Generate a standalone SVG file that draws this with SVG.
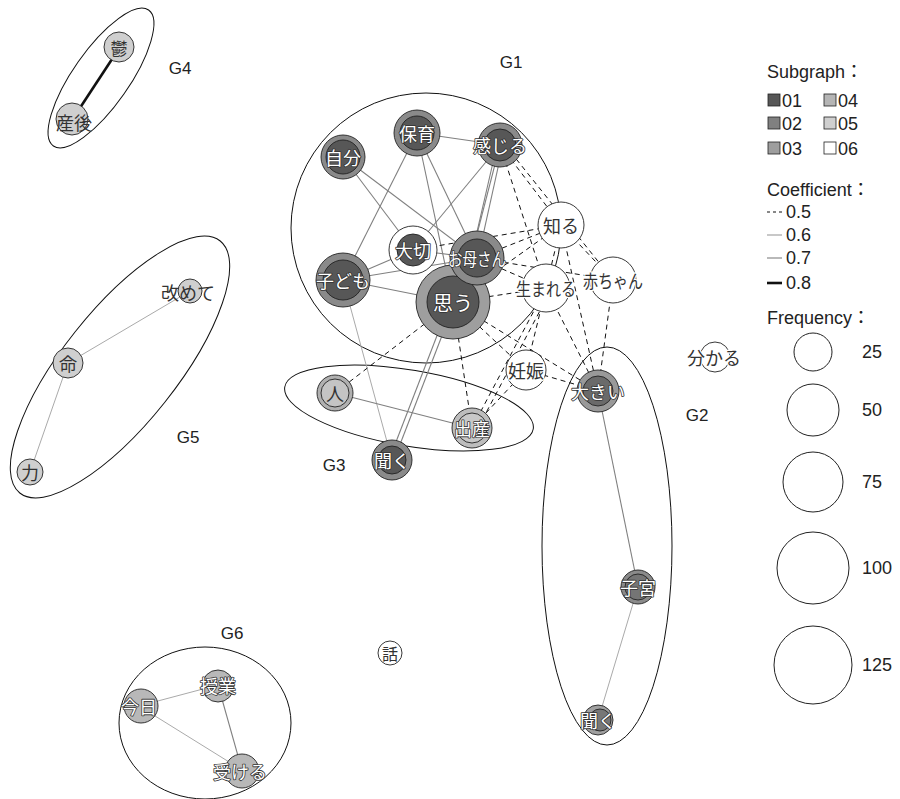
<svg xmlns="http://www.w3.org/2000/svg" width="900" height="799" viewBox="0 0 900 799">
<style>
text{font-family:"Noto Sans CJK JP","Noto Sans CJK SC",sans-serif}
.lat{font-family:"Liberation Sans","Noto Sans CJK JP",sans-serif;font-size:17px;fill:#222}
.leg{font-size:18px}
.grp{fill:none;stroke:#111;stroke-width:1}
.e6{stroke:#aaa;stroke-width:1;fill:none}
.e7{stroke:#808080;stroke-width:1.1;fill:none}
.e8{stroke:#111;stroke-width:2.6;fill:none}
.e5{stroke:#111;stroke-width:1;stroke-dasharray:5 4;fill:none}
.c{stroke:#222;stroke-width:0.9}
.lw{font-size:18px;fill:#fff;stroke:#333;stroke-width:1.6;paint-order:stroke;stroke-linejoin:round;text-anchor:middle;dominant-baseline:central}
.ld{font-size:18px;fill:#333;stroke:#fff;stroke-width:2.5;paint-order:stroke;stroke-linejoin:round;text-anchor:middle;dominant-baseline:central}
.ldn{font-size:18px;fill:#333;text-anchor:middle;dominant-baseline:central}
</style>

<g id="groups">
<ellipse class="grp" cx="101" cy="78" rx="28" ry="83" transform="rotate(35 101 78)"/>
<ellipse class="grp" cx="120" cy="367" rx="57" ry="161" transform="rotate(38.5 120 367)"/>
<circle class="grp" cx="426" cy="228" r="135"/>
<ellipse class="grp" cx="409" cy="408" rx="126" ry="38" transform="rotate(9.6 409 408)"/>
<ellipse class="grp" cx="607" cy="546" rx="65" ry="199"/>
<ellipse class="grp" cx="205" cy="723" rx="86" ry="76"/>
<text class="lat" x="511" y="68" text-anchor="middle">G1</text>
<text class="lat" x="697" y="421" text-anchor="middle">G2</text>
<text class="lat" x="334" y="471" text-anchor="middle">G3</text>
<text class="lat" x="180" y="74" text-anchor="middle">G4</text>
<text class="lat" x="188" y="443" text-anchor="middle">G5</text>
<text class="lat" x="232" y="639" text-anchor="middle">G6</text>
</g>

<g id="connectors">
<line class="e7" x1="417" y1="133" x2="500" y2="145"/>
<line class="e7" x1="417" y1="133" x2="343" y2="280"/>
<line class="e7" x1="417" y1="133" x2="453" y2="302"/>
<line class="e7" x1="417" y1="133" x2="477" y2="258"/>
<line class="e7" x1="343" y1="157" x2="413" y2="250"/>
<line class="e7" x1="343" y1="157" x2="477" y2="258"/>
<line class="e7" x1="500" y1="145" x2="413" y2="250"/>
<line class="e7" x1="497" y1="145" x2="471" y2="258"/>
<line class="e7" x1="503" y1="145" x2="478" y2="258"/>
<line class="e7" x1="500" y1="145" x2="460" y2="300"/>
<line class="e7" x1="343" y1="280" x2="413" y2="250"/>
<line class="e7" x1="343" y1="280" x2="477" y2="258"/>
<line class="e7" x1="343" y1="280" x2="453" y2="302"/>
<line class="e6" x1="343" y1="280" x2="392" y2="460"/>
<line class="e7" x1="413" y1="250" x2="477" y2="258"/>
<line class="e7" x1="450" y1="302" x2="389" y2="460"/>
<line class="e7" x1="455" y1="302" x2="394" y2="460"/>
<line class="e7" x1="335" y1="393" x2="472" y2="428"/>
<line class="e5" x1="500" y1="145" x2="561" y2="225"/>
<line class="e5" x1="500" y1="145" x2="546" y2="288"/>
<line class="e5" x1="505" y1="145" x2="613" y2="280"/>
<line class="e5" x1="413" y1="250" x2="561" y2="225"/>
<line class="e5" x1="477" y1="258" x2="561" y2="225"/>
<line class="e5" x1="453" y1="302" x2="561" y2="225"/>
<line class="e5" x1="561" y1="225" x2="546" y2="288"/>
<line class="e5" x1="561" y1="225" x2="613" y2="280"/>
<line class="e5" x1="561" y1="225" x2="598" y2="391"/>
<line class="e5" x1="477" y1="258" x2="546" y2="288"/>
<line class="e5" x1="477" y1="258" x2="613" y2="280"/>
<line class="e5" x1="453" y1="302" x2="546" y2="288"/>
<line class="e5" x1="453" y1="302" x2="526" y2="370"/>
<line class="e5" x1="453" y1="302" x2="598" y2="391"/>
<line class="e5" x1="453" y1="302" x2="335" y2="393"/>
<line class="e5" x1="453" y1="302" x2="472" y2="428"/>
<line class="e5" x1="546" y1="288" x2="526" y2="370"/>
<line class="e5" x1="546" y1="288" x2="472" y2="428"/>
<line class="e5" x1="552" y1="288" x2="478" y2="428"/>
<line class="e5" x1="546" y1="288" x2="598" y2="391"/>
<line class="e5" x1="613" y1="280" x2="598" y2="391"/>
<line class="e5" x1="526" y1="370" x2="598" y2="391"/>
<line class="e5" x1="526" y1="370" x2="472" y2="428"/>
<line class="e7" x1="598" y1="391" x2="638" y2="587"/>
<line class="e6" x1="638" y1="587" x2="598" y2="720"/>
<line class="e8" x1="120" y1="47" x2="72" y2="120"/>
<line class="e6" x1="190" y1="291" x2="68" y2="363"/>
<line class="e6" x1="68" y1="363" x2="30" y2="472"/>
<line class="e6" x1="139" y1="706" x2="218" y2="685"/>
<line class="e6" x1="139" y1="706" x2="242" y2="770"/>
<line class="e7" x1="218" y1="685" x2="242" y2="770"/>
</g>

<g id="n-hoiku"><circle class="c" cx="417" cy="133" r="23" fill="#8a8a8a"/><circle class="c" cx="417" cy="133" r="17" fill="#575757"/><text class="lw" x="417" y="133">保育</text></g>
<g id="n-jibun"><circle class="c" cx="343" cy="157" r="22" fill="#8a8a8a"/><circle class="c" cx="343" cy="157" r="17" fill="#575757"/><text class="lw" x="343" y="157">自分</text></g>
<g id="n-kanjiru"><circle class="c" cx="500" cy="145" r="22" fill="#8a8a8a"/><circle class="c" cx="500" cy="145" r="16" fill="#575757"/><text class="lw" x="500" y="145">感じる</text></g>
<g id="n-kodomo"><circle class="c" cx="343" cy="280" r="27" fill="#8a8a8a"/><circle class="c" cx="343" cy="280" r="20" fill="#575757"/><text class="lw" x="343" y="280">子ども</text></g>
<g id="n-taisetsu"><circle class="c" cx="413" cy="250" r="24" fill="#fff"/><circle class="c" cx="413" cy="250" r="16" fill="#575757"/><text class="lw" x="413" y="250">大切</text></g>
<g id="n-omou"><circle class="c" cx="453" cy="302" r="37" fill="#9e9e9e"/><circle class="c" cx="453" cy="302" r="26" fill="#575757"/><text class="lw" x="453" y="302" style="font-size:20px">思う</text></g>
<g id="n-okaasan"><circle class="c" cx="477" cy="258" r="27" fill="#8a8a8a"/><circle class="c" cx="477" cy="258" r="19" fill="#575757"/><text class="lw" x="477" y="258" textLength="58" lengthAdjust="spacingAndGlyphs">お母さん</text></g>
<g id="n-shiru"><circle class="c" cx="561" cy="225" r="23" fill="#fff"/><text class="ldn" x="561" y="225">知る</text></g>
<g id="n-umareru"><circle class="c" cx="546" cy="288" r="24" fill="#fff"/><text class="ld" x="546" y="288" textLength="60" lengthAdjust="spacingAndGlyphs">生まれる</text></g>
<g id="n-akachan"><circle class="c" cx="613" cy="280" r="23" fill="#fff"/><text class="ld" x="613" y="280" textLength="60" lengthAdjust="spacingAndGlyphs">赤ちゃん</text></g>
<g id="n-ninshin"><circle class="c" cx="526" cy="370" r="20" fill="#fff"/><text class="ld" x="526" y="370">妊娠</text></g>
<g id="n-ookii"><circle class="c" cx="598" cy="391" r="21" fill="#999"/><circle class="c" cx="598" cy="391" r="15" fill="#6a6a6a"/><text class="lw" x="598" y="391">大きい</text></g>
<g id="n-hito"><circle class="c" cx="335" cy="393" r="18" fill="#b0b0b0"/><circle class="c" cx="335" cy="393" r="14" fill="#c4c4c4"/><text class="ldn" x="335" y="393">人</text></g>
<g id="n-shussan"><circle class="c" cx="472" cy="428" r="20" fill="#bdbdbd"/><circle class="c" cx="472" cy="428" r="15" fill="#c8c8c8"/><text class="lw" x="472" y="428">出産</text></g>
<g id="n-kiku1"><circle class="c" cx="392" cy="460" r="20" fill="#8a8a8a"/><circle class="c" cx="392" cy="460" r="14" fill="#575757"/><text class="lw" x="392" y="460">聞く</text></g>
<g id="n-shikyu"><circle class="c" cx="638" cy="587" r="17" fill="#8a8a8a"/><circle class="c" cx="638" cy="587" r="13" fill="#757575"/><text class="lw" x="638" y="587">子宮</text></g>
<g id="n-kiku2"><circle class="c" cx="598" cy="720" r="15" fill="#a0a0a0"/><circle class="c" cx="600" cy="720" r="11" fill="#777"/><text class="lw" x="598" y="720">聞く</text></g>
<g id="n-wakaru"><circle class="c" cx="715" cy="357" r="15" fill="#fff"/><text class="ld" x="714" y="357">分かる</text></g>
<g id="n-utsu"><circle class="c" cx="119" cy="47" r="15" fill="#cfcfcf"/><text class="ldn" x="119" y="47" style="font-size:17px">鬱</text></g>
<g id="n-sango"><circle class="c" cx="72" cy="119" r="16" fill="#cfcfcf"/><text class="ldn" x="74" y="122">産後</text></g>
<g id="n-aratamete"><circle class="c" cx="190" cy="291" r="12" fill="#cfcfcf"/><text class="ldn" x="188" y="292">改めて</text></g>
<g id="n-inochi"><circle class="c" cx="68" cy="363" r="15" fill="#cfcfcf"/><text class="ldn" x="68" y="363">命</text></g>
<g id="n-chikara"><circle class="c" cx="30" cy="472" r="13" fill="#cfcfcf"/><text class="ldn" x="30" y="472">力</text></g>
<g id="n-jugyou"><circle class="c" cx="218" cy="686" r="16" fill="#b8b8b8"/><text class="lw" x="218" y="685">授業</text></g>
<g id="n-kyou"><circle class="c" cx="141" cy="706" r="17" fill="#b8b8b8"/><text class="lw" x="139" y="706">今日</text></g>
<g id="n-ukeru"><circle class="c" cx="242" cy="771" r="17" fill="#b8b8b8"/><text class="lw" x="240" y="771">受ける</text></g>
<g id="n-hanashi"><circle class="c" cx="390" cy="653" r="12" fill="#fff"/><text class="ldn" x="390" y="653" style="font-size:16px">話</text></g>

<g id="legend">
<text class="lat leg" x="767" y="78">Subgraph：</text>
<rect x="768" y="94" width="12" height="12" fill="#575757" stroke="#222" stroke-width="0.8"/><text class="lat leg" x="782" y="107">01</text>
<rect x="824" y="94" width="12" height="12" fill="#b5b5b5" stroke="#222" stroke-width="0.8"/><text class="lat leg" x="838" y="107">04</text>
<rect x="768" y="117" width="12" height="12" fill="#808080" stroke="#222" stroke-width="0.8"/><text class="lat leg" x="782" y="130">02</text>
<rect x="824" y="117" width="12" height="12" fill="#cfcfcf" stroke="#222" stroke-width="0.8"/><text class="lat leg" x="838" y="130">05</text>
<rect x="768" y="142" width="12" height="12" fill="#9e9e9e" stroke="#222" stroke-width="0.8"/><text class="lat leg" x="782" y="155">03</text>
<rect x="824" y="142" width="12" height="12" fill="#fff" stroke="#222" stroke-width="0.8"/><text class="lat leg" x="838" y="155">06</text>
<text class="lat leg" x="767" y="196">Coefficient：</text>
<line class="e5" x1="767" y1="212" x2="782" y2="212" style="stroke-dasharray:3 3"/><text class="lat leg" x="786" y="218">0.5</text>
<line class="e6" x1="767" y1="235" x2="782" y2="235" style="stroke-width:1.3"/><text class="lat leg" x="786" y="241">0.6</text>
<line class="e7" x1="767" y1="258" x2="782" y2="258"/><text class="lat leg" x="786" y="264">0.7</text>
<line class="e8" x1="767" y1="283" x2="782" y2="283"/><text class="lat leg" x="786" y="289">0.8</text>
<text class="lat leg" x="767" y="324">Frequency：</text>
<circle cx="813" cy="352" r="19" fill="#fff" stroke="#222"/><text class="lat leg" x="862" y="358">25</text>
<circle cx="813" cy="410" r="26" fill="#fff" stroke="#222"/><text class="lat leg" x="862" y="416">50</text>
<circle cx="813" cy="482" r="30" fill="#fff" stroke="#222"/><text class="lat leg" x="862" y="488">75</text>
<circle cx="813" cy="568" r="36" fill="#fff" stroke="#222"/><text class="lat leg" x="862" y="574">100</text>
<circle cx="813" cy="665" r="39" fill="#fff" stroke="#222"/><text class="lat leg" x="862" y="671">125</text>
</g>
</svg>
